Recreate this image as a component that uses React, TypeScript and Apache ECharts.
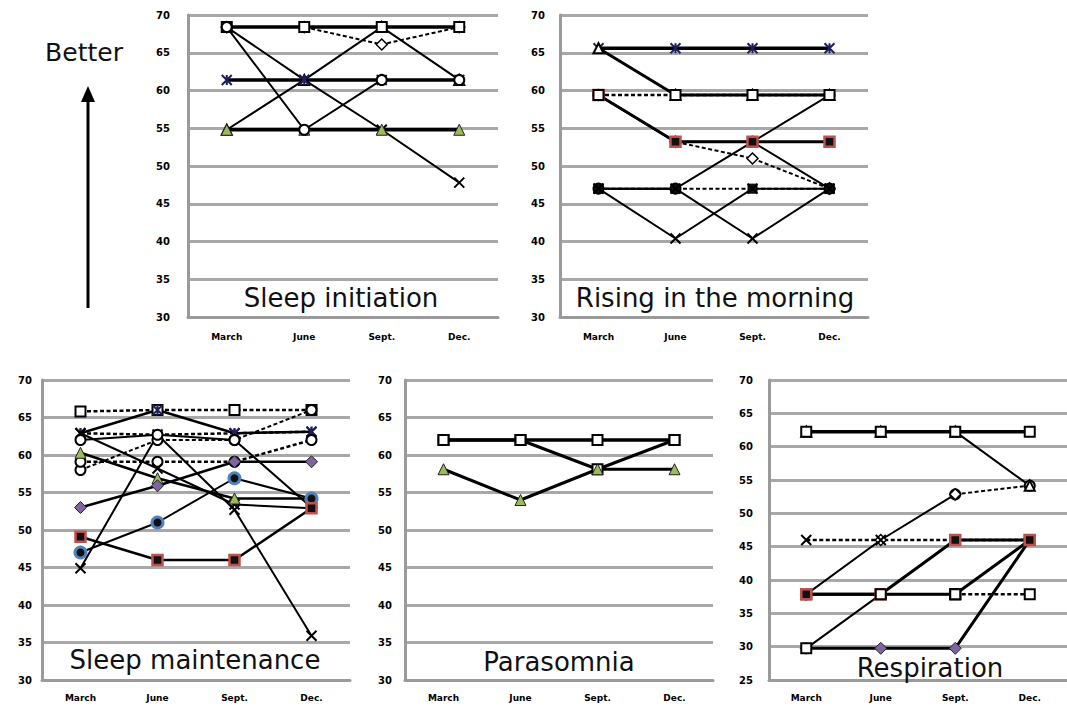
import React, { useEffect, useRef } from "react";
import * as echarts from "echarts";

// ---------- data ----------
const CATEGORIES = ["March", "June", "Sept.", "Dec."];
const PANEL_TITLES = ["Sleep initiation", "Rising in the morning", "Sleep maintenance", "Parasomnia", "Respiration"];
const Y_MIN = [30, 30, 30, 30, 25];
const Y_MAX = [70, 70, 70, 70, 70];
const Y_STEP = 5;

// Sleep initiation
const siSquare = [68.4, 68.4, 68.4, 68.4];
const siCircle = [68.4, 54.8, 61.4, 61.4];
const siCross = [68.4, 61.4, 54.8, 47.8];
const siStar = [61.4, 61.4, 61.4, 61.4];
const siGreen = [54.8, 54.8, 54.8, 54.8];
const siTriangle = [54.8, 61.4, 68.4, 61.4];
const siDiamond = [68.4, 68.4, 66.1, 68.4];

// Rising in the morning
const riStar = [65.6, 65.6, 65.6, 65.6];
const riTriangle = [65.6, 59.4, 59.4, 59.4];
const riSquare = [59.4, 59.4, 59.4, 59.4];
const riRed = [59.4, 53.2, 53.2, 53.2];
const riCircle = [59.4, 53.2, 53.2, 47.0];
const riDiamond = [59.4, 53.2, 51.0, 47.0];
const riBlack = [47.0, 47.0, 40.4, 47.0];
const riCross = [47.0, 40.4, 47.0, 47.0];
const riRise = [47.0, 47.0, 53.2, 59.4];
const riDash = [47.0, 47.0, 47.0, 47.0];

// Sleep maintenance
const smSquare = [65.8, 66.0, 66.0, 66.0];
const smStar = [62.9, 66.0, 62.9, 63.1];
const smCross = [44.9, 62.7, 52.7, 35.9];
const smStarDash = [62.9, 62.7, 62.9, 63.1];
const smCircleA = [58.0, 62.0, 62.0, 66.0];
const smCircleB = [59.1, 59.1, 59.1, 62.0];
const smGreen = [60.3, 56.9, 54.2, 54.2];
const smPurple = [53.0, 55.9, 59.1, 59.1];
const smBlue = [47.0, 51.0, 56.9, 54.2];
const smRed = [49.1, 46.0, 46.0, 52.9];
const smFall = [62.9, 58.2, 53.4, 52.9];
const smCircleC = [62.0, 62.7, 62.0, 53.0];

// Parasomnia
const paTop = [62.0, 62.0, 62.0, 62.0];
const paSquare = [62.0, 62.0, 58.1, 62.0];
const paGreen = [58.1, 54.0, 58.1, 58.1];

// Respiration
const reTop = [62.25, 62.25, 62.25, 62.25];
const reTriangle = [62.25, 62.25, 62.25, 54.15];
const reDiamond = [37.85, 46.0, 52.85, null];
const reDiamondTail = [null, null, 52.85, 54.15];
const reCross = [46.0, 46.0, 46.0, 46.0];
const reRed = [37.85, 37.85, 46.0, 46.0];
const reSquare = [29.75, 37.85, 37.85, null];
const reSquareTail = [null, null, 37.85, 37.85];
const reStep = [37.85, 37.85, 37.85, 46.0];
const rePurple = [29.75, 29.75, 29.75, 46.0];

// ---------- styles ----------
const SYM: Record<string, any> = {
  sq: { symbol: "rect", size: 10, fill: "#ffffff", border: "#000000", bw: 2 },
  sqBlack: { symbol: "rect", size: 9, fill: "#111111", border: "#000000", bw: 1 },
  sqRed: { symbol: "rect", size: 10, fill: "#111111", border: "#c0504d", bw: 2.5 },
  circ: { symbol: "circle", size: 10, fill: "#ffffff", border: "#000000", bw: 2 },
  circBlue: { symbol: "circle", size: 11, fill: "#111111", border: "#4f81bd", bw: 3 },
  tri: { symbol: "triangle", size: 10, fill: "#ffffff", border: "#000000", bw: 2 },
  triGreen: { symbol: "triangle", size: 11, fill: "#9bbb59", border: "#222222", bw: 1 },
  dia: { symbol: "diamond", size: 11, fill: "#ffffff", border: "#000000", bw: 1.5 },
  diaPurple: { symbol: "diamond", size: 12, fill: "#8064a2", border: "#222222", bw: 1 },
  x: { symbol: "path://M0,0L10,10M10,0L0,10", size: 10, fill: "rgba(0,0,0,0)", border: "#000000", bw: 2 },
  ast: { symbol: "path://M0,0L10,10M10,0L0,10M5,0L5,10", size: 10, fill: "rgba(0,0,0,0)", border: "#1f1f5f", bw: 2 },
};

type Spec = { g: number; data: (number | null)[]; m: string; dash?: boolean; w?: number };

const SPECS: Spec[] = [
  { g: 0, data: siCross, m: "x", w: 2 },
  { g: 0, data: siTriangle, m: "tri", w: 2 },
  { g: 0, data: siDiamond, m: "dia", dash: true, w: 2 },
  { g: 0, data: siSquare, m: "sq", w: 3.5 },
  { g: 0, data: siStar, m: "ast", w: 3.5 },
  { g: 0, data: siGreen, m: "triGreen", w: 3.5 },
  { g: 0, data: siCircle, m: "circ", w: 2 },

  { g: 1, data: riCircle, m: "circ", w: 2 },
  { g: 1, data: riDiamond, m: "dia", dash: true, w: 2 },
  { g: 1, data: riRise, m: "circ", w: 2 },
  { g: 1, data: riDash, m: "sqBlack", dash: true, w: 2 },
  { g: 1, data: riBlack, m: "x", w: 2 },
  { g: 1, data: riCross, m: "x", w: 2 },
  { g: 1, data: riStar, m: "ast", w: 3.5 },
  { g: 1, data: riRed, m: "sqRed", w: 3 },
  { g: 1, data: riTriangle, m: "tri", w: 3 },
  { g: 1, data: riSquare, m: "sq", dash: true, w: 2.5 },

  { g: 2, data: smSquare, m: "sq", dash: true, w: 2.5 },
  { g: 2, data: smStar, m: "ast", w: 2.5 },
  { g: 2, data: smCross, m: "x", w: 2 },
  { g: 2, data: smStarDash, m: "ast", dash: true, w: 2.5 },
  { g: 2, data: smCircleA, m: "circ", dash: true, w: 2 },
  { g: 2, data: smCircleB, m: "circ", dash: true, w: 2.5 },
  { g: 2, data: smFall, m: "x", w: 2 },
  { g: 2, data: smCircleC, m: "circ", w: 2 },
  { g: 2, data: smGreen, m: "triGreen", w: 2.5 },
  { g: 2, data: smPurple, m: "diaPurple", w: 2.5 },
  { g: 2, data: smBlue, m: "circBlue", w: 2 },
  { g: 2, data: smRed, m: "sqRed", w: 2.5 },

  { g: 3, data: paTop, m: "sq", w: 3.5 },
  { g: 3, data: paSquare, m: "sq", w: 3 },
  { g: 3, data: paGreen, m: "triGreen", w: 3 },

  { g: 4, data: reDiamondTail, m: "circ", dash: true, w: 2 },
  { g: 4, data: reDiamond, m: "dia", w: 2 },
  { g: 4, data: reCross, m: "x", dash: true, w: 2.5 },
  { g: 4, data: reStep, m: "sq", w: 3 },
  { g: 4, data: rePurple, m: "diaPurple", w: 3 },
  { g: 4, data: reRed, m: "sqRed", w: 3 },
  { g: 4, data: reSquare, m: "sq", w: 2 },
  { g: 4, data: reSquareTail, m: "sq", dash: true, w: 2.5 },
  { g: 4, data: reTriangle, m: "tri", w: 2 },
  { g: 4, data: reTop, m: "sq", w: 3.5 },
];

const GRIDS = [
  { left: 188, top: 15, width: 310, height: 302, labelMargin: 18, xMargin: 15 },
  { left: 560, top: 15, width: 308, height: 302, labelMargin: 15, xMargin: 15 },
  { left: 42, top: 380, width: 308, height: 300, labelMargin: 10, xMargin: 13 },
  { left: 405, top: 380, width: 308, height: 300, labelMargin: 13, xMargin: 13 },
  { left: 769, top: 380, width: 308, height: 300, labelMargin: 16, xMargin: 13 },
];

const TITLE_POS = [
  [341, 298],
  [715, 298],
  [195, 660],
  [559, 662],
  [930, 668],
];

export default function App() {
  const ref = useRef<HTMLDivElement>(null);
  useEffect(() => {
    if (!ref.current) return;
    const chart = echarts.init(ref.current, null, { renderer: "svg" });
    const font = "DejaVu Sans";
    const option: any = {
      animation: false,
      backgroundColor: "#ffffff",
      grid: GRIDS.map((g) => ({ left: g.left, top: g.top, width: g.width, height: g.height, containLabel: false })),
      xAxis: GRIDS.map((g, i) => ({
        type: "category",
        gridIndex: i,
        data: CATEGORIES,
        boundaryGap: true,
        axisLine: { show: true, lineStyle: { color: "#9a9a9a", width: 3 } },
        axisTick: { show: false },
        axisLabel: { margin: g.xMargin, fontSize: 9, fontWeight: "bold", color: "#000", fontFamily: font },
        splitLine: { show: false },
      })),
      yAxis: GRIDS.map((g, i) => ({
        type: "value",
        gridIndex: i,
        min: Y_MIN[i],
        max: Y_MAX[i],
        interval: Y_STEP,
        axisLine: { show: true, lineStyle: { color: "#9a9a9a", width: 3 } },
        axisTick: { show: false },
        axisLabel: { margin: g.labelMargin, fontSize: 10, fontWeight: "bold", color: "#000", fontFamily: font },
        splitLine: { show: true, lineStyle: { color: "#a8a8a8", width: 3 } },
      })),
      series: SPECS.map((s) => {
        const sym = SYM[s.m];
        return {
          type: "line",
          xAxisIndex: s.g,
          yAxisIndex: s.g,
          data: s.data,
          symbol: sym.symbol,
          symbolSize: sym.size,
          showSymbol: true,
          silent: true,
          connectNulls: false,
          itemStyle: { color: sym.fill, borderColor: sym.border, borderWidth: sym.bw },
          lineStyle: { color: "#000000", width: s.w ?? 2, type: s.dash ? [4, 2.5] : "solid" },
          emphasis: { disabled: true },
        };
      }),
      graphic: [
        ...PANEL_TITLES.map((t, i) => ({
          type: "text",
          x: TITLE_POS[i][0],
          y: TITLE_POS[i][1],
          z: 100,
          style: {
            text: t,
            fontSize: 26,
            fontFamily: font,
            fill: "#111",
            align: "center",
            verticalAlign: "middle",
          },
        })),
        {
          type: "text",
          x: 84,
          y: 52,
          style: { text: "Better", fontSize: 25, fontFamily: font, fill: "#111", align: "center", verticalAlign: "middle" },
        },
        {
          type: "line",
          shape: { x1: 88, y1: 308, x2: 88, y2: 100 },
          style: { stroke: "#000", lineWidth: 3 },
        },
        {
          type: "polygon",
          shape: { points: [[88, 86], [81, 102], [95, 102]] },
          style: { fill: "#000" },
        },
      ],
    };
    chart.setOption(option);
    return () => chart.dispose();
  }, []);
  return <div ref={ref} style={{ position: "absolute", left: 0, top: 0, width: 1067, height: 709 }} />;
}
